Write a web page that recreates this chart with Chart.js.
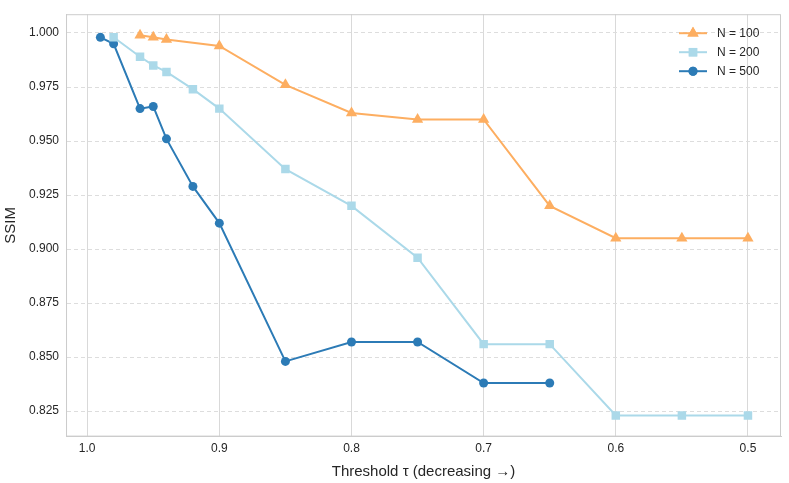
<!DOCTYPE html>
<html>
<head>
<meta charset="utf-8">
<script src="https://cdn.jsdelivr.net/npm/chart.js@4"></script>
<style>
  body { margin: 0; background: #fff; }
  #wrap { width: 789px; height: 483px; }
</style>
</head>
<body>
<div id="wrap"><canvas id="chart"></canvas></div>
<script>
const xTicks = [1.0, 0.9, 0.8, 0.7, 0.6, 0.5];
const yTicks = [0.825, 0.85, 0.875, 0.9, 0.925, 0.95, 0.975, 1.0];

const tau100 = [0.96, 0.95, 0.94, 0.9, 0.85, 0.8, 0.75, 0.7, 0.65, 0.6, 0.55, 0.5];
const ssim100 = [0.999, 0.998, 0.997, 0.994, 0.976, 0.963, 0.960, 0.960, 0.920, 0.905, 0.905, 0.905];

const tau200 = [0.98, 0.96, 0.95, 0.94, 0.92, 0.9, 0.85, 0.8, 0.75, 0.7, 0.65, 0.6, 0.55, 0.5];
const ssim200 = [0.998, 0.989, 0.985, 0.982, 0.974, 0.965, 0.937, 0.920, 0.896, 0.856, 0.856, 0.823, 0.823, 0.823];

const tau500 = [0.99, 0.98, 0.96, 0.95, 0.94, 0.92, 0.9, 0.85, 0.8, 0.75, 0.7, 0.65];
const ssim500 = [0.998, 0.995, 0.965, 0.966, 0.951, 0.929, 0.912, 0.848, 0.857, 0.857, 0.838, 0.838];

const pts = (xs, ys) => xs.map((x, i) => ({ x: x, y: ys[i] }));
const FONT = 'Arial, "Liberation Sans", sans-serif';

const series = [
  { label: 'N = 100', data: pts(tau100, ssim100), color: '#fdae61', style: 'triangle', r: 6.5 },
  { label: 'N = 200', data: pts(tau200, ssim200), color: '#abd9e9', style: 'rect', r: 6 },
  { label: 'N = 500', data: pts(tau500, ssim500), color: '#2c7bb6', style: 'circle', r: 4.5 }
];

// legend drawn inside the plot, top right
const innerLegend = {
  id: 'innerLegend',
  afterDraw(chart) {
    const ctx = chart.ctx;
    const area = chart.chartArea;
    const x0 = area.right - 102;
    let y = area.top + 19;
    ctx.save();
    ctx.font = '12px ' + FONT;
    ctx.textBaseline = 'middle';
    series.forEach(s => {
      ctx.strokeStyle = s.color;
      ctx.lineWidth = 2;
      ctx.beginPath();
      ctx.moveTo(x0, y);
      ctx.lineTo(x0 + 28, y);
      ctx.stroke();
      ctx.fillStyle = s.color;
      Chart.helpers.drawPoint(ctx, { pointStyle: s.style, radius: s.r, rotation: 0, borderWidth: 0 }, x0 + 14, y);
      ctx.fill();
      ctx.fillStyle = '#262626';
      ctx.fillText(s.label, x0 + 38, y);
      y += 19;
    });
    ctx.restore();
  }
};

new Chart(document.getElementById('chart'), {
  type: 'line',
  data: {
    datasets: series.map(s => ({
      label: s.label,
      data: s.data,
      borderColor: s.color,
      backgroundColor: s.color,
      borderWidth: 2,
      pointStyle: s.style,
      pointRadius: s.r,
      pointBorderWidth: 0,
      tension: 0
    }))
  },
  options: {
    responsive: true,
    maintainAspectRatio: false,
    animation: false,
    layout: { padding: { left: 2, right: 8, top: 8, bottom: 2 } },
    plugins: { legend: { display: false }, tooltip: { enabled: false } },
    scales: {
      x: {
        type: 'linear',
        reverse: true,
        min: 0.475,
        max: 1.016,
        afterBuildTicks: axis => { axis.ticks = xTicks.map(v => ({ value: v })); },
        ticks: { color: '#262626', font: { size: 12, family: FONT }, callback: v => v.toFixed(1), padding: 5 },
        grid: { color: '#d9d9d9', lineWidth: 1, drawTicks: false },
        border: { color: '#cccccc', width: 1 },
        title: { display: true, text: 'Threshold τ (decreasing →)', color: '#262626', font: { size: 15, family: FONT }, padding: { top: 2, bottom: 0 } }
      },
      y: {
        min: 0.8132,
        max: 1.0087,
        afterBuildTicks: axis => { axis.ticks = yTicks.map(v => ({ value: v })); },
        ticks: { color: '#262626', font: { size: 12, family: FONT }, callback: v => v.toFixed(3), padding: 7 },
        grid: { color: '#dddddd', lineWidth: 1, drawTicks: false },
        border: { color: '#cccccc', width: 1, dash: [4, 3] },
        title: { display: true, text: 'SSIM', color: '#262626', font: { size: 15, family: FONT }, padding: { top: 0, bottom: 2 } }
      }
    }
  },
  plugins: [innerLegend, {
    id: 'frame',
    afterDraw(chart) {
      const { ctx, chartArea: a } = chart;
      ctx.save();
      ctx.strokeStyle = '#cccccc';
      ctx.lineWidth = 1;
      ctx.strokeRect(a.left + 0.5, a.top + 0.5, a.right - a.left - 1, a.bottom - a.top - 1);
      ctx.restore();
    }
  }]
});
</script>
</body>
</html>
